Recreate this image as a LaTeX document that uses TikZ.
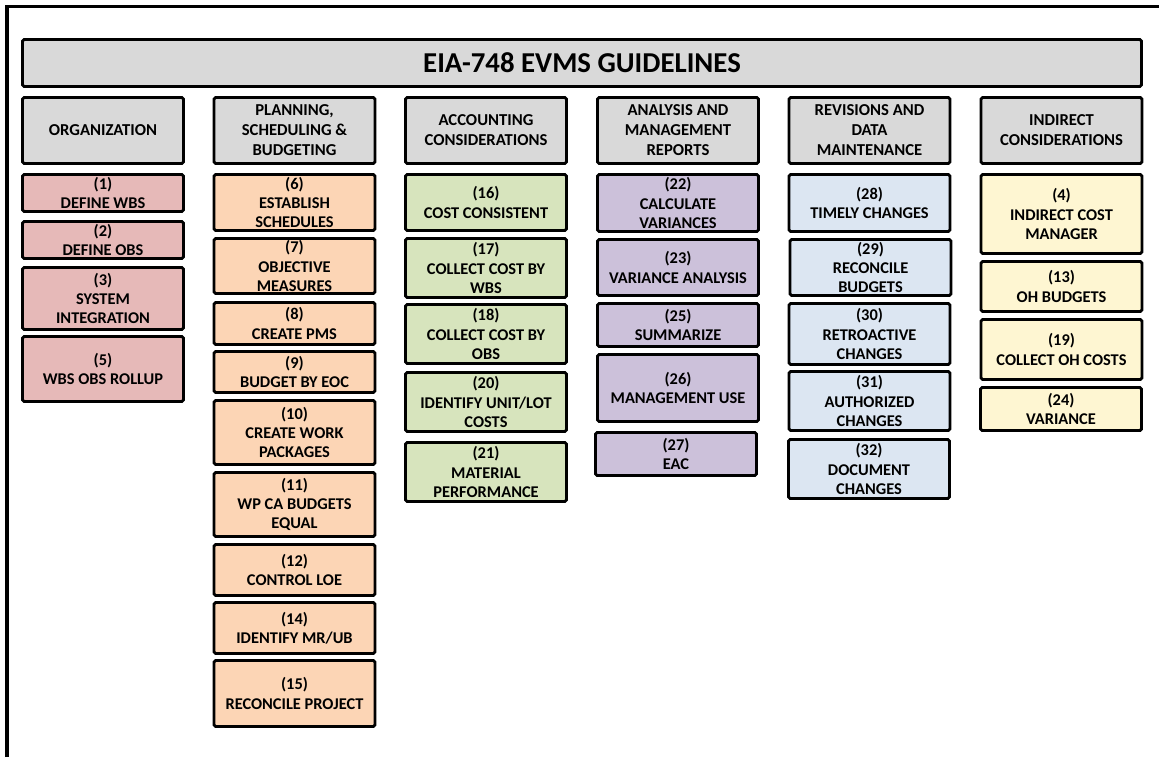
\documentclass[tikz,border=0pt]{standalone}
\usepackage{fontspec}
\setmainfont{Carlito}
\definecolor{hgray}{HTML}{D9D9D9}
\definecolor{orgred}{HTML}{E6B9B8}
\definecolor{planorange}{HTML}{FCD5B5}
\definecolor{acctgreen}{HTML}{D7E4BD}
\definecolor{anapurple}{HTML}{CCC1DA}
\definecolor{revblue}{HTML}{DCE6F2}
\definecolor{indyellow}{HTML}{FEF6D2}
\begin{document}
\begin{tikzpicture}[x=0.75pt,y=-0.75pt,
  box/.style={draw, line width=2.2pt, rounded corners=1.2pt, align=center, inner sep=0pt,
    minimum width=120.75pt, font=\bfseries\fontsize{12.3}{14.4}\selectfont},
  headbox/.style={box, fill=hgray, minimum height=49.5pt, font=\bfseries\fontsize{12.5}{15}\selectfont},
  orgbox/.style={box, fill=orgred},
  planbox/.style={box, fill=planorange},
  acctbox/.style={box, fill=acctgreen},
  anabox/.style={box, fill=anapurple},
  revbox/.style={box, fill=revblue},
  indbox/.style={box, fill=indyellow}]
\useasboundingbox (0,0) rectangle (1159,757);
\draw[line width=2.7pt] (7,757) -- (7,6.5) -- (1159,6.5);

\node[box, fill=hgray, minimum width=839.25pt, minimum height=35.25pt, font=\bfseries\fontsize{21.6}{25}\selectfont] (title) at (582,63) {EIA-748 EVMS GUIDELINES};

\node[headbox] (hOrg) at (103,130.5) {ORGANIZATION};
\node[headbox] (hPlan) at (294.5,130.5) {PLANNING,\\SCHEDULING \&\\BUDGETING};
\node[headbox] (hAcct) at (486,130.5) {ACCOUNTING\\CONSIDERATIONS};
\node[headbox] (hAna) at (678,130.5) {ANALYSIS AND\\MANAGEMENT\\REPORTS};
\node[headbox] (hRev) at (869.5,130.5) {REVISIONS AND\\DATA\\MAINTENANCE};
\node[headbox] (hInd) at (1061.5,130.5) {INDIRECT\\CONSIDERATIONS};

\node[orgbox, minimum height=27.75pt] (g1) at (103,193) {(1)\\DEFINE WBS};
\node[orgbox, minimum height=27.75pt] (g2) at (103,240) {(2)\\DEFINE OBS};
\node[orgbox, minimum height=46.5pt] (g3) at (103,298.5) {(3)\\SYSTEM\\INTEGRATION};
\node[orgbox, minimum height=48.75pt] (g5) at (103,369) {(5)\\WBS OBS ROLLUP};

\node[planbox, minimum height=42pt] (g6) at (294.5,202.5) {(6)\\ESTABLISH\\SCHEDULES};
\node[planbox, minimum height=41.25pt] (g7) at (294.5,266) {(7)\\OBJECTIVE\\MEASURES};
\node[planbox, minimum height=31.5pt] (g8) at (294.5,323.5) {(8)\\CREATE PMS};
\node[planbox, minimum height=30.75pt] (g9) at (294.5,372) {(9)\\BUDGET BY EOC};
\node[planbox, minimum height=48pt] (g10) at (294.5,432.5) {(10)\\CREATE WORK\\PACKAGES};
\node[planbox, minimum height=48pt] (g11) at (294.5,504.5) {(11)\\WP CA BUDGETS\\EQUAL};
\node[planbox, minimum height=38.25pt] (g12) at (294.5,570) {(12)\\CONTROL LOE};
\node[planbox, minimum height=38.25pt] (g14) at (294.5,628) {(14)\\IDENTIFY MR/UB};
\node[planbox, minimum height=49.5pt] (g15) at (294.5,693.5) {(15)\\RECONCILE PROJECT};

\node[acctbox, minimum height=42pt] (g16) at (486,202.5) {(16)\\COST CONSISTENT};
\node[acctbox, minimum height=44.25pt] (g17) at (486,268) {(17)\\COLLECT COST BY\\WBS};
\node[acctbox, minimum height=44.25pt] (g18) at (486,334) {(18)\\COLLECT COST BY\\OBS};
\node[acctbox, minimum height=44.25pt] (g20) at (486,402) {(20)\\IDENTIFY UNIT/LOT\\COSTS};
\node[acctbox, minimum height=44.25pt] (g21) at (486,472) {(21)\\MATERIAL\\PERFORMANCE};

\node[anabox, minimum height=42.75pt] (g22) at (678,203) {(22)\\CALCULATE\\VARIANCES};
\node[anabox, minimum height=42pt] (g23) at (678,267.5) {(23)\\VARIANCE ANALYSIS};
\node[anabox, minimum height=32.25pt] (g25) at (678,325) {(25)\\SUMMARIZE};
\node[anabox, minimum height=50.25pt] (g26) at (678,388) {(26)\\MANAGEMENT USE};
\node[anabox, minimum height=32.25pt] (g27) at (676,454) {(27)\\EAC};

\node[revbox, minimum height=42.75pt] (g28) at (869.5,203) {(28)\\TIMELY CHANGES};
\node[revbox, minimum height=42pt] (g29) at (870.5,267.5) {(29)\\RECONCILE\\BUDGETS};
\node[revbox, minimum height=45.75pt] (g30) at (869.5,334) {(30)\\RETROACTIVE\\CHANGES};
\node[revbox, minimum height=44.25pt] (g31) at (869.5,401) {(31)\\AUTHORIZED\\CHANGES};
\node[revbox, minimum height=44.25pt] (g32) at (869,469) {(32)\\DOCUMENT\\CHANGES};

\node[indbox, minimum height=59.25pt] (g4) at (1061.5,214) {(4)\\INDIRECT COST\\MANAGER};
\node[indbox, minimum height=37.5pt] (g13) at (1061.5,286.5) {(13)\\OH BUDGETS};
\node[indbox, minimum height=45pt] (g19) at (1061.5,349.5) {(19)\\COLLECT OH COSTS};
\node[indbox, minimum height=32.25pt] (g24) at (1061,409) {(24)\\VARIANCE};

\end{tikzpicture}
\end{document}
